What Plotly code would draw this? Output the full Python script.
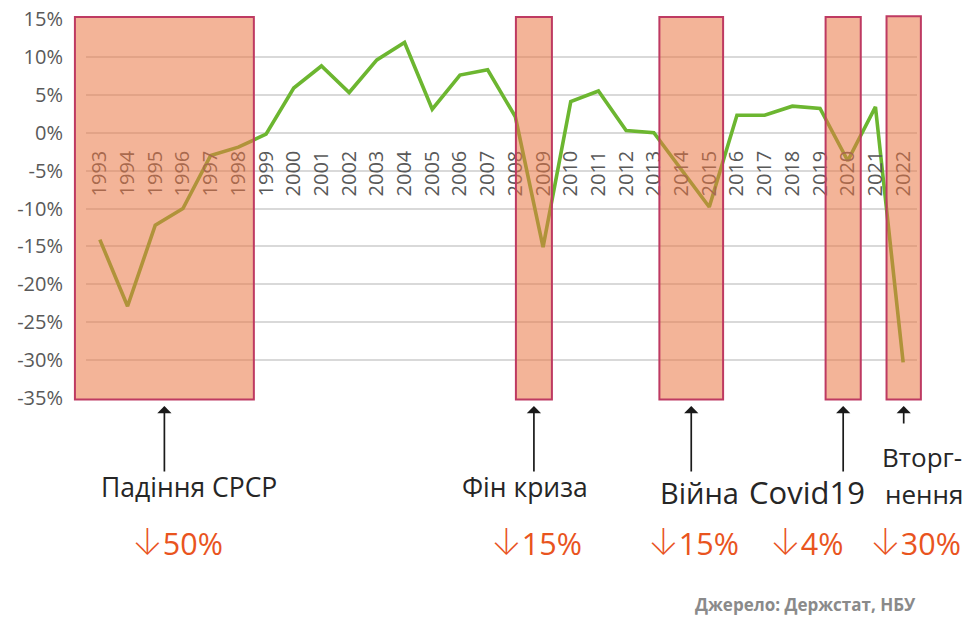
import plotly.graph_objects as go

# ---------------- data ----------------
years = ["1993", "1994", "1995", "1996", "1997", "1998", "1999", "2000", "2001", "2002",
         "2003", "2004", "2005", "2006", "2007", "2008", "2009", "2010", "2011", "2012",
         "2013", "2014", "2015", "2016", "2017", "2018", "2019", "2020", "2021", "2022"]
gdp_growth = [-14.1, -22.9, -12.2, -10.0, -3.0, -1.9, -0.2, 5.9, 8.8, 5.3,
              9.6, 11.9, 3.1, 7.6, 8.3, 2.1, -15.1, 4.1, 5.5, 0.3,
              0.0, -5.0, -9.8, 2.3, 2.3, 3.5, 3.2, -3.7, 3.4, -30.3]

y_ticks = [-35, -30, -25, -20, -15, -10, -5, 0, 5, 10, 15]
y_tick_labels = ["-35%", "-30%", "-25%", "-20%", "-15%", "-10%", "-5%", "0%", "5%", "10%", "15%"]

event_names = ["Падіння СРСР", "Фін криза", "Війна", "Covid19", "Вторг-", "нення"]
event_first = ["1993", "2009", "2014", "2020", "2022"]
event_last = ["1998", "2009", "2015", "2020", "2022"]
event_drops = ["50%", "15%", "15%", "4%", "30%"]
source_text = "Джерело: Держстат, НБУ"

# ---------------- style ----------------
W, H = 974, 617
M_L, M_R, M_T, M_B = 86, 57, 19, 219
PLOT_H = H - M_T - M_B
Y_MIN, Y_MAX = -35, 15
N = len(years)

GREEN = "#6CB630"
BOX_FILL = "rgba(234,118,68,0.55)"
BOX_LINE = "#BE3A62"
TICK_GRAY = "#595959"
LABEL_COL = "#262626"
DROP_COL = "#E9541E"
FONT = "Open Sans"

# box padding in category units (left, right) and tops
box_pad = [(0.9, 0.56), (0.98, 0.32), (0.8, 0.5), (0.8, 0.47), (0.6, 0.64)]
box_top = [15.25, 15.25, 15.25, 15.25, 15.35]
box_bottom = -35.2
# label placement (pixel offsets from box centre, vertical centre in px)
name_dx = [25, -9, 8, -36, 18, 20]
name_cy = [487, 487, 492, 492, 457, 494]
name_size = [26.5, 26.5, 29, 31, 26, 26]
name_box = [0, 1, 2, 3, 4, 4]
drop_dx = [13, 3, 2, -36, 12]
DROP_CY = 541
arrow_len = [67, 67, 67, 67, 19]
ARROW_TIP_PX = 406
SOURCE_CY = 604


def xfrac(idx):
    return (idx + 0.5) / N


def yfrac(v):
    return (v - Y_MIN) / (Y_MAX - Y_MIN)


fig = go.Figure()
fig.add_trace(go.Scatter(
    x=list(range(N)), y=gdp_growth, mode="lines",
    line=dict(color=GREEN, width=3.6), hoverinfo="skip", showlegend=False,
))

centers = []
for i, (a, b) in enumerate(zip(event_first, event_last)):
    i0 = years.index(a) - box_pad[i][0]
    i1 = years.index(b) + box_pad[i][1]
    centers.append((i0 + i1) / 2)
    fig.add_shape(type="rect", xref="x domain", yref="y domain",
                  x0=xfrac(i0), x1=xfrac(i1), y0=yfrac(box_bottom), y1=yfrac(box_top[i]),
                  fillcolor=BOX_FILL, line=dict(color=BOX_LINE, width=2), layer="above")

ARROW_SPAN = "<span style='font-family:Inter;font-weight:200;font-size:37px'>↓</span>"
for i, c in enumerate(centers):
    fig.add_annotation(x=c, y=-(ARROW_TIP_PX - (H - M_B)) / PLOT_H, xref="x", yref="paper",
                       text="", showarrow=True, ax=0, ay=arrow_len[i], axref="pixel", ayref="pixel",
                       arrowhead=1, arrowsize=1.4, arrowwidth=1.7, arrowcolor="#1a1a1a", standoff=0)
    fig.add_annotation(x=c, y=0, xref="x", yref="paper", xshift=drop_dx[i],
                       yshift=-(DROP_CY - (H - M_B)), yanchor="middle", xanchor="center",
                       text=ARROW_SPAN + event_drops[i], showarrow=False,
                       font=dict(family=FONT, size=30.5, color=DROP_COL))

for j, name in enumerate(event_names):
    c = centers[name_box[j]]
    fig.add_annotation(x=c, y=0, xref="x", yref="paper", xshift=name_dx[j],
                       yshift=-(name_cy[j] - (H - M_B)), yanchor="middle", xanchor="center",
                       text=name, showarrow=False,
                       font=dict(family=FONT, size=name_size[j], color=LABEL_COL))

fig.add_annotation(x=1, y=0, xref="paper", yref="paper", xanchor="right", yanchor="middle",
                   yshift=-(SOURCE_CY - (H - M_B)), text="<b>" + source_text + "</b>",
                   showarrow=False, borderpad=0,
                   font=dict(family=FONT, size=17, color="#8a8a8a"))

fig.update_layout(
    width=W, height=H,
    margin=dict(l=M_L, r=M_R, t=M_T, b=M_B, autoexpand=False),
    paper_bgcolor="white", plot_bgcolor="white",
    xaxis=dict(
        range=[-0.5, N - 0.5], tickmode="array", tickvals=list(range(N)), ticktext=years,
        tickangle=-90, showgrid=False, zeroline=False, showline=False, ticks="",
        anchor="free", position=yfrac(0), side="bottom", ticklabelstandoff=13,
        automargin=False,
        tickfont=dict(family=FONT, size=20, color=TICK_GRAY),
    ),
    yaxis=dict(
        range=[Y_MIN, Y_MAX], tickmode="array", tickvals=y_ticks, ticktext=y_tick_labels,
        showgrid=True, gridcolor="#D9D9D9", gridwidth=1.5, zeroline=False, showline=False,
        ticks="", ticklabelstandoff=22, automargin=False,
        tickfont=dict(family=FONT, size=20, color=TICK_GRAY),
    ),
)

fig.write_html("out.html", config={"displayModeBar": False},
               post_script="document.body.style.margin='0';")
